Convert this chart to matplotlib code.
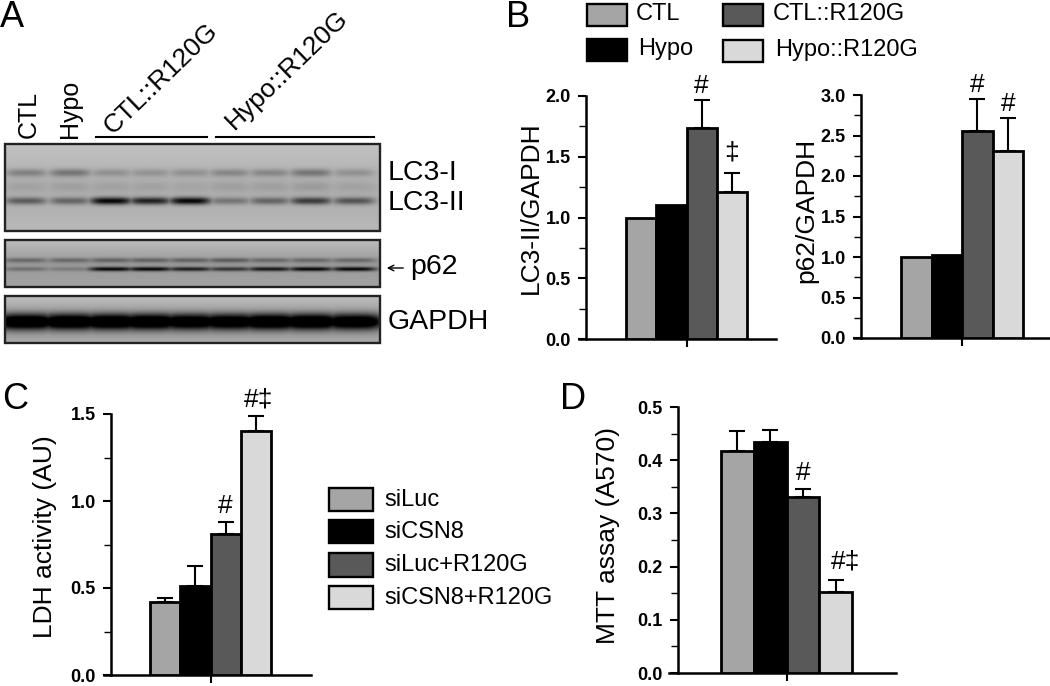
import numpy as np
import matplotlib
matplotlib.use('Agg')
import matplotlib.pyplot as plt
from matplotlib.patches import Rectangle

plt.rcParams['font.family'] = ['Liberation Sans', 'DejaVu Sans']

W, H = 1050, 686

bar_colors = ['#a5a5a5', '#000000', '#595959', '#d9d9d9']

lc3_values = [1.0, 1.1, 1.74, 1.21]
lc3_errors = [0, 0, 0.23, 0.16]
p62_values = [1.0, 1.02, 2.55, 2.31]
p62_errors = [0, 0, 0.40, 0.40]
ldh_values = [0.42, 0.51, 0.81, 1.40]
ldh_errors = [0.025, 0.115, 0.07, 0.09]
mtt_values = [0.418, 0.435, 0.33, 0.153]
mtt_errors = [0.037, 0.022, 0.015, 0.022]

legend_b = ['CTL', 'Hypo', 'CTL::R120G', 'Hypo::R120G']
legend_c = ['siLuc', 'siCSN8', 'siLuc+R120G', 'siCSN8+R120G']

# blot band strength per lane
lane_centers = [26, 70, 111, 150, 190, 230, 270, 311, 354]
lc3_i_band = [0.40, 0.50, 0.28, 0.26, 0.28, 0.36, 0.36, 0.50, 0.28]
lc3_mid_band = [0.10, 0.12, 0.10, 0.10, 0.08, 0.12, 0.12, 0.15, 0.10]
lc3_ii_band = [0.50, 0.45, 1.0, 0.85, 1.0, 0.35, 0.45, 0.70, 0.55]
p62_top_band = [0.45, 0.45, 0.50, 0.50, 0.50, 0.55, 0.45, 0.45, 0.45]
p62_low_band = [0.30, 0.22, 1.0, 1.0, 0.85, 0.70, 0.90, 1.0, 1.0]
gapdh_band = [1.0, 1.0, 1.0, 1.0, 0.95, 0.95, 1.0, 1.0, 0.95]


def px_axes(fig, left, right, top, bottom):
    return fig.add_axes([left / W, 1 - bottom / H, (right - left) / W, (bottom - top) / H])


def bar_panel(fig, box, bar_left, bar_right, spine_x, values, errors, ymax, major, tick_len, marks):
    left, right, top, bottom = box
    ax = px_axes(fig, left, right, top, bottom)
    step = (bar_right - bar_left) / 4
    x = np.arange(4)
    to_data = lambda px: (px - bar_left) / step - 0.5
    ax.bar(x, values, width=1, color=bar_colors, edgecolor='black', linewidth=2, zorder=3)
    for i in range(4):
        if errors[i] > 0:
            ax.errorbar(x[i], values[i], yerr=[[0], [errors[i]]], color='black', elinewidth=1.5,
                        capsize=5.5, capthick=1.5, zorder=2)
    ax.set_xlim(to_data(left), to_data(right))
    ax.set_ylim(0, ymax)
    for s in ['top', 'right']:
        ax.spines[s].set_visible(False)
    ax.spines['left'].set_position(('data', to_data(spine_x)))
    ax.spines['left'].set_linewidth(1.8)
    ax.spines['bottom'].set_linewidth(1.8)
    ax.set_xticks([1.5])
    ax.set_xticklabels([''])
    ax.tick_params(axis='x', length=6, width=1.5)
    ax.set_yticks(np.arange(0, ymax + major / 2, major))
    ax.set_yticks(np.arange(0, ymax, major / 2), minor=True)
    ax.set_yticklabels(['%.1f' % t for t in np.arange(0, ymax + major / 2, major)], fontsize=13, fontweight='bold')
    ax.tick_params(axis='y', which='major', length=tick_len, width=1.5, pad=5)
    ax.tick_params(axis='y', which='minor', length=tick_len - 1, width=1)
    ax.patch.set_alpha(0)
    for i, text, dx, dy in marks:
        ax.annotate(text, (x[i], values[i] + errors[i]), xytext=(dx, dy), textcoords='offset pixels',
                    ha='center', va='center', fontsize=19)
    return ax


def blot(ax, x0, x1, y0, y1, bg_top, bg_mid, bg_bot, bands, lane_w=21):
    w = int(x1 - x0) * 2
    h = int(y1 - y0) * 2
    xs = np.linspace(x0, x1, w)
    ys = np.linspace(0, 1, h)
    img = np.interp(ys, [0, 0.5, 1], [bg_top, bg_mid, bg_bot])[:, None] * np.ones((h, w))
    for frac, thick, strength, depth in bands:
        across = np.zeros(w)
        for c, s in zip(lane_centers, strength):
            across = np.maximum(across, s * np.exp(-((xs - c) / lane_w) ** 4))
        prof = np.exp(-((ys - frac) / thick) ** 2)
        img = img - depth * across * prof[:, None] * img / 0.7
    ax.imshow(np.clip(img, 0, 1), extent=(x0, x1, y1, y0), cmap='gray', vmin=0, vmax=1,
              aspect='auto', interpolation='bilinear', zorder=1)
    ax.add_patch(Rectangle((x0, y0), x1 - x0, y1 - y0, fill=False, edgecolor='#222222', linewidth=1.7, zorder=2))


fig = plt.figure(figsize=(W / 100, H / 100), dpi=100)

bar_panel(fig, (579, 776, 96, 339), 626, 747, 586, lc3_values, lc3_errors, 2.0, 0.5, 6,
          [(2, '#', 0, 14), (3, '\u2021', 0, 20)])
bar_panel(fig, (854, 1050, 95, 338), 901, 1023, 861, p62_values, p62_errors, 3.0, 0.5, 6,
          [(2, '#', 0, 14), (3, '#', 0, 14)])
bar_panel(fig, (104, 311, 414, 675), 150, 271, 111, ldh_values, ldh_errors, 1.5, 0.5, 6,
          [(2, '#', 0, 16), (3, '#\u2021', 3, 16)])
bar_panel(fig, (669, 896, 407, 673), 721, 852, 678, mtt_values, mtt_errors, 0.5, 0.1, 6,
          [(2, '#', 0, 16), (3, '#\u2021', 10, 18)])

over = fig.add_axes([0, 0, 1, 1], zorder=10)
over.patch.set_alpha(0)

blot(over, 5, 380, 144, 231, 0.76, 0.68, 0.72,
     [(0.33, 0.045, lc3_i_band, 0.5), (0.49, 0.06, lc3_mid_band, 0.5), (0.655, 0.042, lc3_ii_band, 0.68)])
blot(over, 5, 380, 240, 287, 0.74, 0.60, 0.64,
     [(0.43, 0.05, p62_top_band, 0.55), (0.62, 0.045, p62_low_band, 0.68)], lane_w=23)
blot(over, 5, 380, 296, 343, 0.74, 0.60, 0.66,
     [(0.55, 0.17, gapdh_band, 1.0)], lane_w=30)

over.set_xlim(0, W)
over.set_ylim(H, 0)
over.axis('off')

for letter, lx, ly in [('A', 0, 27), ('B', 506, 27), ('C', 2, 409), ('D', 560, 409)]:
    over.text(lx, ly, letter, fontsize=26, ha='left', va='baseline')

# blot headers
over.text(29, 138, 'CTL', fontsize=18, rotation=90, ha='center', va='bottom')
over.text(70, 138, 'Hypo', fontsize=18, rotation=90, ha='center', va='bottom')
over.text(116, 139, 'CTL::R120G', fontsize=19, rotation=44, rotation_mode='anchor', ha='left', va='bottom')
over.text(238, 134, 'Hypo::R120G', fontsize=19, rotation=44, rotation_mode='anchor', ha='left', va='bottom')
over.plot([96, 207], [137, 137], color='black', lw=1.5)
over.plot([216, 374], [137, 137], color='black', lw=1.5)

over.text(388, 173, 'LC3-I', fontsize=20.5, va='center')
over.text(388, 203, 'LC3-II', fontsize=20.5, va='center')
over.text(410, 267, 'p62', fontsize=20.5, va='center')
over.text(388, 322, 'GAPDH', fontsize=20.5, va='center')
over.annotate('', xy=(384, 268), xytext=(406, 268), arrowprops=dict(arrowstyle='->', lw=1, color='black'))

over.text(531, 208, 'LC3-II/GAPDH', fontsize=19, rotation=90, ha='center', va='center')
over.text(806, 210, 'p62/GAPDH', fontsize=19, rotation=90, ha='center', va='center')
over.text(45, 537, 'LDH activity (AU)', fontsize=19, rotation=90, ha='center', va='center')
over.text(608, 536, 'MTT assay (A570)', fontsize=19, rotation=90, ha='center', va='center')

# legends
b_boxes = [(587, 627, 4, 26), (587, 627, 39, 61), (723, 763, 4, 26), (723, 763, 40, 62)]
b_text_x = [636, 638, 773, 775]
for (x0, x1, y0, y1), c, name, tx in zip(b_boxes, bar_colors, legend_b, b_text_x):
    over.add_patch(Rectangle((x0, y0), x1 - x0, y1 - y0, facecolor=c, edgecolor='black', linewidth=1.7))
    over.text(tx, (y0 + y1) / 2 - 1, name, fontsize=17, va='center')

c_boxes = [(329, 373, 488, 511), (329, 373, 520, 543), (329, 373, 553, 577), (329, 373, 586, 609)]
for (x0, x1, y0, y1), c, name in zip(c_boxes, bar_colors, legend_c):
    over.add_patch(Rectangle((x0, y0), x1 - x0, y1 - y0, facecolor=c, edgecolor='black', linewidth=1.7))
    over.text(384, (y0 + y1) / 2, name, fontsize=17, va='center')

fig.savefig('out.png', dpi=100)
